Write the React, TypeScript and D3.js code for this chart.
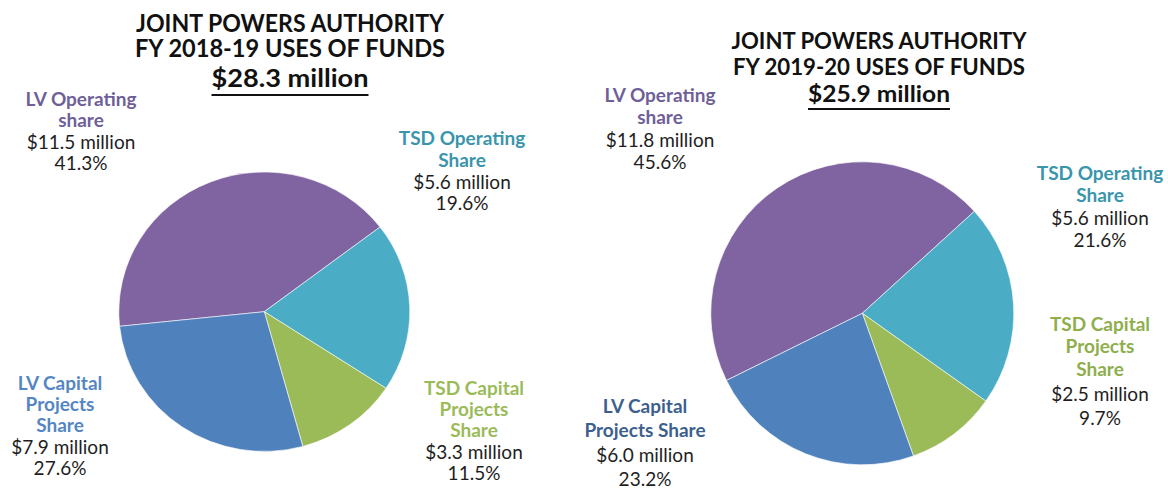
import React from "react";
import * as d3 from "d3";

// ---- data ----
const sliceKeys = ["lvOperating", "tsdOperating", "tsdCapital", "lvCapital"];
const fy1819Millions = [11.5, 5.6, 3.3, 7.9];
const fy1819Percents = [41.3, 19.6, 11.5, 27.6];
const fy1920Millions = [11.8, 5.6, 2.5, 6.0];
const fy1920Percents = [45.6, 21.6, 9.7, 23.2];
const fy1819Names = [["LV Operating", "share"], ["TSD Operating", "Share"], ["TSD Capital", "Projects", "Share"], ["LV Capital", "Projects", "Share"]];
const fy1920Names = [["LV Operating", "share"], ["TSD Operating", "Share"], ["TSD Capital", "Projects", "Share"], ["LV Capital", "Projects Share"]];
const fy1819Title = ["JOINT POWERS AUTHORITY", "FY 2018-19 USES OF FUNDS", "$28.3 million"];
const fy1920Title = ["JOINT POWERS AUTHORITY", "FY 2019-20 USES OF FUNDS", "$25.9 million"];

// ---- styles / layout ----
const sliceColors: Record<string, string> = {
  lvOperating: "#8064a2",
  tsdOperating: "#4bacc6",
  tsdCapital: "#9bbb59",
  lvCapital: "#4f81bd",
};
const FONT = "Lato, 'Open Sans', sans-serif";

type LabelLayout = { x: number; ys: number[]; color: string };

const charts = [
  {
    millions: fy1819Millions,
    percents: fy1819Percents,
    names: fy1819Names,
    title: fy1819Title,
    cx: 264.3, cy: 311.7, r: 145.5, sy: 0.96,
    startDeg: -96,
    titleX: 290, titleYs: [32, 57, 87], titleSize: 24, titleWidths: [308, 310, 157], underlineY: 95,
    labels: {
      lvOperating: { x: 81, ys: [106, 127, 148.5, 170], color: "#6f5f99" },
      tsdOperating: { x: 462, ys: [145, 166.5, 188.5, 210], color: "#3a95ac" },
      tsdCapital: { x: 474, ys: [394.5, 415.5, 437, 458.5, 480], color: "#9bbb59" },
      lvCapital: { x: 60, ys: [389.5, 410.5, 432, 453.5, 475], color: "#5586c4" },
    } as Record<string, LabelLayout>,
  },
  {
    millions: fy1920Millions,
    percents: fy1920Percents,
    names: fy1920Names,
    title: fy1920Title,
    cx: 862.3, cy: 313.3, r: 151.5, sy: 1,
    startDeg: -116.3,
    titleX: 879, titleYs: [48.5, 75, 102], titleSize: 23, titleWidths: [295, 292, 142], underlineY: 109,
    labels: {
      lvOperating: { x: 660, ys: [102, 124, 146.5, 168.5], color: "#6f5f99" },
      tsdOperating: { x: 1100, ys: [180, 202, 225, 247], color: "#3a95ac" },
      tsdCapital: { x: 1100, ys: [331, 353, 376, 401, 425], color: "#8fae4c" },
      lvCapital: { x: 645, ys: [413, 437, 462, 486], color: "#3d5f8e" },
    } as Record<string, LabelLayout>,
  },
];

function PieChart({ c }: { c: (typeof charts)[number] }) {
  const start = (c.startDeg * Math.PI) / 180;
  const pie = d3
    .pie<number>()
    .sort(null)
    .value((d) => d)
    .startAngle(start)
    .endAngle(start + 2 * Math.PI);
  const arcs = pie(c.percents);
  const arc = d3.arc<d3.PieArcDatum<number>>().innerRadius(0).outerRadius(c.r);

  return (
    <g>
      {c.title.map((t, i) => (
        <text
          key={"t" + i}
          x={c.titleX}
          y={c.titleYs[i]}
          textAnchor="middle"
          fontFamily={FONT}
          fontWeight={700}
          fontSize={c.titleSize}
          fill="#111"
          textLength={c.titleWidths[i]}
          lengthAdjust="spacingAndGlyphs"
        >
          {t}
        </text>
      ))}
      <line
        x1={c.titleX - c.titleWidths[2] / 2}
        x2={c.titleX + c.titleWidths[2] / 2}
        y1={c.underlineY}
        y2={c.underlineY}
        stroke="#111"
        strokeWidth={2}
      />
      <g transform={`translate(${c.cx},${c.cy}) scale(1,${c.sy})`}>
        {arcs.map((a, i) => (
          <path
            key={sliceKeys[i]}
            d={arc(a) || ""}
            fill={sliceColors[sliceKeys[i]]}
            stroke="#ffffff"
            strokeOpacity={0.6}
            strokeWidth={1}
          />
        ))}
      </g>
      {sliceKeys.map((k, i) => {
        const L = c.labels[k];
        const lines = [
          ...c.names[i].map((n) => ({ t: n, bold: true })),
          { t: `$${c.millions[i].toFixed(1)} million`, bold: false },
          { t: `${c.percents[i].toFixed(1)}%`, bold: false },
        ];
        return (
          <g key={"l" + k}>
            {lines.map((ln, j) => (
              <text
                key={j}
                x={L.x}
                y={L.ys[j]}
                textAnchor="middle"
                fontFamily={FONT}
                fontWeight={ln.bold ? 700 : 400}
                fontSize={19}
                fill={ln.bold ? L.color : "#1e1e1e"}
              >
                {ln.t}
              </text>
            ))}
          </g>
        );
      })}
    </g>
  );
}

export default function App() {
  return (
    <svg
      width={1168}
      height={496}
      style={{ position: "absolute", left: 0, top: 0, background: "#fff" }}
    >
      <rect x={0} y={0} width={1168} height={496} fill="#fff" />
      {charts.map((c, i) => (
        <PieChart key={i} c={c} />
      ))}
    </svg>
  );
}
